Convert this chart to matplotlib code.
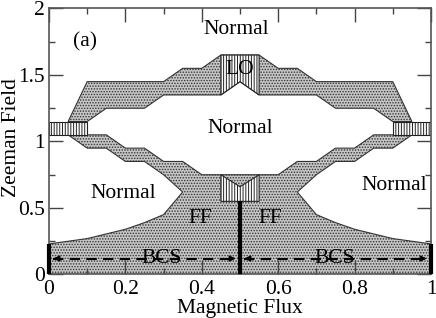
import matplotlib
matplotlib.use('Agg')
import matplotlib.pyplot as plt
from matplotlib.patches import Polygon

plt.rcParams['font.family'] = ['Liberation Serif', 'DejaVu Serif']
plt.rcParams['hatch.linewidth'] = 0.7
plt.rcParams['hatch.color'] = '#444444'

# upper FF band (between top Normal and middle Normal)
upper_top_x = [0.05, 0.10, 0.30, 0.35, 0.40, 0.45, 0.55, 0.60, 0.65, 0.70, 0.90, 0.95]
upper_top_y = [1.15, 1.45, 1.45, 1.55, 1.55, 1.65, 1.65, 1.55, 1.55, 1.45, 1.45, 1.15]
upper_bot_x = [0.90, 0.85, 0.75, 0.70, 0.55, 0.50, 0.45, 0.30, 0.25, 0.15, 0.10]
upper_bot_y = [1.15, 1.25, 1.25, 1.35, 1.35, 1.45, 1.35, 1.35, 1.25, 1.25, 1.15]

# lower FF region: boundary with middle Normal (left to right)
mid_x = [0.10, 0.15, 0.20, 0.25, 0.30, 0.35, 0.40, 0.45, 0.55, 0.60, 0.65, 0.70, 0.75, 0.80, 0.85, 0.90]
mid_y = [1.05, 1.05, 0.95, 0.95, 0.85, 0.85, 0.75, 0.75, 0.75, 0.75, 0.85, 0.85, 0.95, 0.95, 1.05, 1.05]
# boundary with left lower Normal (top to bottom)
left_x = [0.05, 0.10, 0.15, 0.20, 0.25, 0.30, 0.35, 0.30, 0.25, 0.20, 0.10, 0.00]
left_y = [1.05, 0.95, 0.95, 0.85, 0.85, 0.75, 0.62, 0.45, 0.39, 0.34, 0.27, 0.23]
# boundary with right lower Normal (top to bottom)
right_x = [0.95, 0.90, 0.85, 0.80, 0.75, 0.70, 0.65, 0.70, 0.75, 0.80, 0.90, 1.00]
right_y = [1.05, 0.95, 0.95, 0.85, 0.85, 0.75, 0.62, 0.45, 0.39, 0.34, 0.27, 0.23]

# LO pockets
lo_top = [(0.45, 1.35), (0.45, 1.65), (0.55, 1.65), (0.55, 1.35), (0.50, 1.45)]
lo_bottom = [(0.45, 0.75), (0.50, 0.66), (0.55, 0.75), (0.55, 0.55), (0.45, 0.55)]
lo_left = [(0.0, 1.05), (0.0, 1.15), (0.10, 1.15), (0.10, 1.05)]
lo_right = [(0.90, 1.05), (0.90, 1.15), (1.0, 1.15), (1.0, 1.05)]

bcs_y = 0.12
bcs_edges = [0.0, 0.5, 1.0]
bar_tops = [0.23, 0.55, 0.23]

fig = plt.figure(figsize=(4.36, 3.18), dpi=100)
ax = fig.add_axes([0.1124, 0.1368, 0.8761, 0.8365])

ff_style = dict(facecolor='#c6c6c6', edgecolor='#333333', hatch='......', lw=0.8)
lo_style = dict(facecolor='white', edgecolor='#222222', hatch='||||||', lw=0.8)

upper = list(zip(upper_top_x, upper_top_y)) + list(zip(upper_bot_x, upper_bot_y))
ax.add_patch(Polygon(upper, closed=True, **ff_style))

lower = (list(zip(mid_x, mid_y)) + list(zip(right_x, right_y)) + [(1.0, 0.0), (0.0, 0.0)]
         + list(zip(left_x, left_y))[::-1])
ax.add_patch(Polygon(lower, closed=True, **ff_style))

for pts in (lo_top, lo_bottom, lo_left, lo_right):
    ax.add_patch(Polygon(pts, closed=True, **lo_style))

# thick boundaries inside the BCS/FF region
for xe, top in zip(bcs_edges, bar_tops):
    ax.plot([xe, xe], [0, top], color='black', lw=3, solid_capstyle='butt', zorder=4, clip_on=False)

for x0, x1 in ((0.0, 0.5), (0.5, 1.0)):
    ax.plot([x0 + 0.01, x1 - 0.01], [bcs_y, bcs_y], color='black', lw=1.5, ls=(0, (5, 3)), zorder=4)
    ax.annotate('', xy=(x0 + 0.004, bcs_y), xytext=(x0 + 0.03, bcs_y),
                arrowprops=dict(arrowstyle='-|>', color='black', lw=1.2, mutation_scale=8), zorder=5)
    ax.annotate('', xy=(x1 - 0.004, bcs_y), xytext=(x1 - 0.03, bcs_y),
                arrowprops=dict(arrowstyle='-|>', color='black', lw=1.2, mutation_scale=8), zorder=5)

fs = 15.5
ax.text(0.49, 1.84, 'Normal', fontsize=fs, ha='center', va='center')
ax.text(0.50, 1.54, 'LO', fontsize=fs, ha='center', va='center', zorder=6)
ax.text(0.50, 1.10, 'Normal', fontsize=fs, ha='center', va='center')
ax.text(0.195, 0.61, 'Normal', fontsize=fs, ha='center', va='center')
ax.text(0.905, 0.67, 'Normal', fontsize=fs, ha='center', va='center')
ax.text(0.395, 0.42, 'FF', fontsize=fs, ha='center', va='center', zorder=6)
ax.text(0.58, 0.42, 'FF', fontsize=fs, ha='center', va='center', zorder=6)
ax.text(0.296, bcs_y, 'BCS', fontsize=fs, ha='center', va='center', zorder=6)
ax.text(0.747, bcs_y, 'BCS', fontsize=fs, ha='center', va='center', zorder=6)
ax.text(0.094, 1.75, '(a)', fontsize=fs, ha='center', va='center')

ax.set_xlim(0, 1)
ax.set_ylim(0, 2)
ax.set_xticks([0, 0.2, 0.4, 0.6, 0.8, 1.0])
ax.set_xticklabels(['0', '0.2', '0.4', '0.6', '0.8', '1'])
ax.set_xticks([0.1, 0.3, 0.5, 0.7, 0.9], minor=True)
ax.set_yticks([0, 0.5, 1.0, 1.5, 2.0])
ax.set_yticklabels(['0', '0.5', '1', '1.5', '2'])
ax.set_yticks([0.25, 0.75, 1.25, 1.75], minor=True)
ax.tick_params(which='both', direction='in', top=True, right=True, labelsize=fs, colors='#444444',
               labelcolor='black', width=1)
ax.tick_params(which='major', length=10)
ax.tick_params(axis='x', which='major', pad=4)
ax.tick_params(axis='y', which='major', pad=3)
ax.tick_params(which='minor', length=4)
for sp in ax.spines.values():
    sp.set_color('#555555')
    sp.set_linewidth(1.2)

fig.text(240 / 436, 1 - 308 / 318, 'Magnetic Flux', fontsize=fs, ha='center', va='center')
fig.text(12 / 436, 1 - 138 / 318, 'Zeeman Field', fontsize=fs, ha='center', va='center', rotation=90)

fig.savefig('out.png', dpi=100)
